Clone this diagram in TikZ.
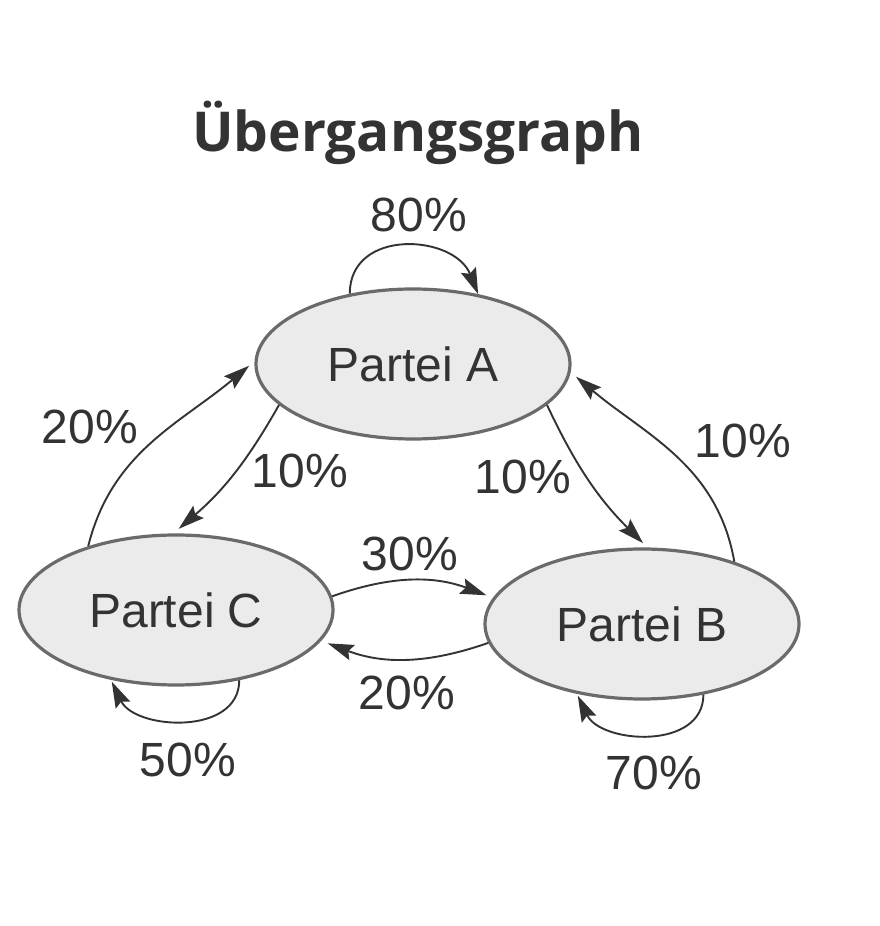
\documentclass[tikz,border=0pt]{standalone}
\usepackage{fontspec}
\setmainfont{Liberation Sans}
\newfontfamily\titlefont{Open Sans}
\usetikzlibrary{shapes.geometric,arrows.meta}
\definecolor{ink}{HTML}{333333}
\definecolor{rim}{HTML}{6A6A6A}
\definecolor{fillg}{HTML}{EBEBEB}
\tikzset{
  party/.style={ellipse, draw=rim, fill=fillg, line width=3.2pt, inner sep=0pt,
    minimum width=314pt, minimum height=150pt, text=ink,
    font=\fontsize{48}{56}\selectfont},
  pct/.style={text=ink, inner sep=0pt, font=\fontsize{48}{56}\selectfont},
  edge/.style={draw=ink, line width=1.9pt, -{Stealth[length=26pt,width=16pt,inset=4pt]}},
}
\begin{document}
\begin{tikzpicture}[x=1pt,y=1pt]
\useasboundingbox[fill=white] (0,0) rectangle (880,926);
\node[anchor=base, text=ink, font=\titlefont\bfseries\fontsize{55}{60}\selectfont] (title) at (418,774) {Übergangsgraph};

\node[party] (A) at (413,562) {Partei A};
\node[party] (C) at (176,316) {Partei C};
\node[party] (B) at (642,302) {Partei B};

% self loops
\draw[edge] (A.132) .. controls +(0,66) and +(-24,60) .. (A.47);
\draw[edge, shorten >=2pt] (C.312) .. controls +(0,-56) and +(24,-50) .. (C.227);
\draw[edge, shorten >=2pt] (B.311) .. controls +(0,-56) and +(24,-50) .. (B.227);

% between parties
\draw[edge, shorten >=7pt] (C.144) to[out=76, in=220] (A.179);
\draw[edge, shorten >=7pt] (A.197) to[bend left=10] (C.92);
\draw[edge, shorten >=6pt] (A.343) to[bend right=10] (B.86);
\draw[edge, shorten >=7pt] (B.34) to[out=100, in=320] (A.357);
\draw[edge, shorten >=7pt] (C.5) to[bend left=20] (B.170);
\draw[edge, shorten >=7pt] (B.187) to[bend left=20] (C.348);

% labels
\node[pct] (l80) at (419,711) {80\%};
\node[pct] (l20a) at (90,499) {20\%};
\node[pct] (l10a) at (300,455) {10\%};
\node[pct] (l10b) at (523,449) {10\%};
\node[pct] (l10c) at (743,485) {10\%};
\node[pct] (l30) at (410,372) {30\%};
\node[pct] (l20b) at (407,233) {20\%};
\node[pct] (l50) at (188,166) {50\%};
\node[pct] (l70) at (654,153) {70\%};
\end{tikzpicture}
\end{document}
